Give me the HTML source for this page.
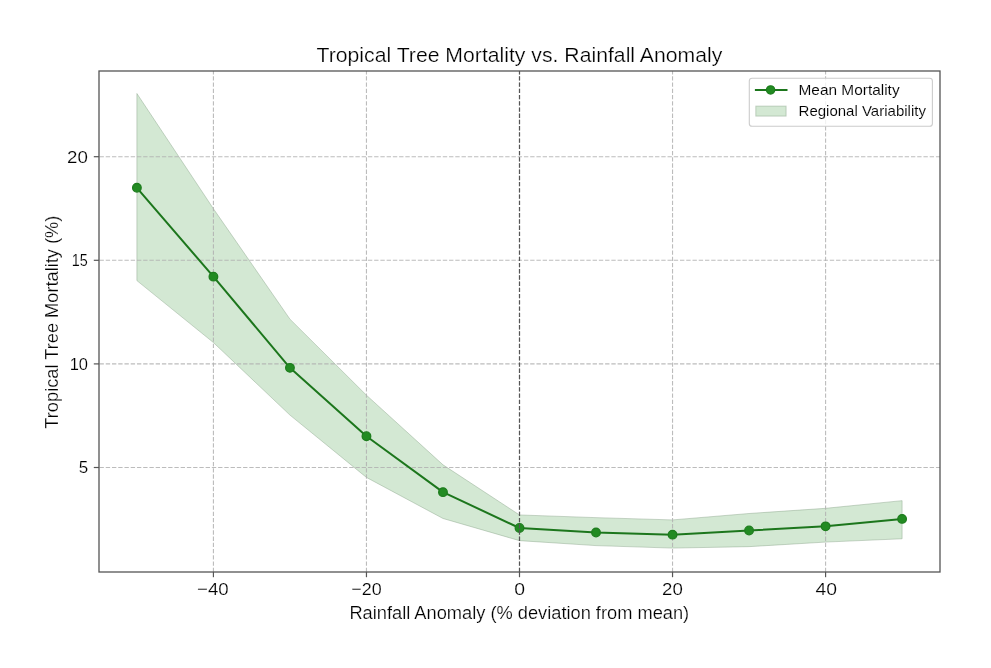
<!DOCTYPE html>
<html><head><meta charset="utf-8"><title>Tropical Tree Mortality vs. Rainfall Anomaly</title>
<style>html,body{margin:0;padding:0;background:#fff;width:991px;height:668px;overflow:hidden}svg{display:block;will-change:transform}</style>
</head><body>
<svg width="991" height="668" viewBox="0 0 991 668"><rect x="0" y="0" width="991" height="668" fill="#ffffff"/><path d="M136.9,93.5 L213.42,208.71 L289.94,319.14 L366.46,395.19 L442.98,464.81 L519.5,514.95 L596.02,517.64 L672.54,519.92 L749.06,513.5 L825.58,508.32 L902.1,500.65 L902.1,538.78 L825.58,542.09 L749.06,546.65 L672.54,548.1 L596.02,545.61 L519.5,540.64 L442.98,518.47 L366.46,477.45 L289.94,415.08 L213.42,342.56 L136.9,280.61 Z" fill="#228b22" fill-opacity="0.2" stroke="#789678" stroke-opacity="0.38" stroke-width="1.0" stroke-linejoin="round"/><line x1="213.42" y1="572.0" x2="213.42" y2="71.0" stroke="#b0b0b0" stroke-opacity="0.85" stroke-width="1.1" stroke-dasharray="4.342 1.878"/><line x1="366.46" y1="572.0" x2="366.46" y2="71.0" stroke="#b0b0b0" stroke-opacity="0.85" stroke-width="1.1" stroke-dasharray="4.342 1.878"/><line x1="672.54" y1="572.0" x2="672.54" y2="71.0" stroke="#b0b0b0" stroke-opacity="0.85" stroke-width="1.1" stroke-dasharray="4.342 1.878"/><line x1="825.58" y1="572.0" x2="825.58" y2="71.0" stroke="#b0b0b0" stroke-opacity="0.85" stroke-width="1.1" stroke-dasharray="4.342 1.878"/><line x1="519.5" y1="572.0" x2="519.5" y2="71.0" stroke="#b0b0b0" stroke-opacity="0.85" stroke-width="1.1" stroke-dasharray="4.342 1.878"/><line x1="99.5" y1="467.5" x2="940.0" y2="467.5" stroke="#b0b0b0" stroke-opacity="0.85" stroke-width="1.1" stroke-dasharray="4.357 1.885"/><line x1="99.5" y1="363.9" x2="940.0" y2="363.9" stroke="#b0b0b0" stroke-opacity="0.85" stroke-width="1.1" stroke-dasharray="4.357 1.885"/><line x1="99.5" y1="260.3" x2="940.0" y2="260.3" stroke="#b0b0b0" stroke-opacity="0.85" stroke-width="1.1" stroke-dasharray="4.357 1.885"/><line x1="99.5" y1="156.7" x2="940.0" y2="156.7" stroke="#b0b0b0" stroke-opacity="0.85" stroke-width="1.1" stroke-dasharray="4.357 1.885"/><polyline points="136.9,187.78 213.42,276.67 289.94,367.84 366.46,436.21 442.98,492.16 519.5,528 596.02,532.56 672.54,534.63 749.06,530.49 825.58,526.34 902.1,518.89" fill="none" stroke="#1c761c" stroke-width="2.0" stroke-linejoin="round" stroke-linecap="butt"/><circle cx="136.9" cy="187.78" r="4.3" fill="#228b22" stroke="#1e7d1e" stroke-width="1.3"/><circle cx="213.42" cy="276.67" r="4.3" fill="#228b22" stroke="#1e7d1e" stroke-width="1.3"/><circle cx="289.94" cy="367.84" r="4.3" fill="#228b22" stroke="#1e7d1e" stroke-width="1.3"/><circle cx="366.46" cy="436.21" r="4.3" fill="#228b22" stroke="#1e7d1e" stroke-width="1.3"/><circle cx="442.98" cy="492.16" r="4.3" fill="#228b22" stroke="#1e7d1e" stroke-width="1.3"/><circle cx="519.5" cy="528" r="4.3" fill="#228b22" stroke="#1e7d1e" stroke-width="1.3"/><circle cx="596.02" cy="532.56" r="4.3" fill="#228b22" stroke="#1e7d1e" stroke-width="1.3"/><circle cx="672.54" cy="534.63" r="4.3" fill="#228b22" stroke="#1e7d1e" stroke-width="1.3"/><circle cx="749.06" cy="530.49" r="4.3" fill="#228b22" stroke="#1e7d1e" stroke-width="1.3"/><circle cx="825.58" cy="526.34" r="4.3" fill="#228b22" stroke="#1e7d1e" stroke-width="1.3"/><circle cx="902.1" cy="518.89" r="4.3" fill="#228b22" stroke="#1e7d1e" stroke-width="1.3"/><line x1="519.5" y1="572.0" x2="519.5" y2="71.0" stroke="#555555" stroke-width="1.2" stroke-dasharray="4.342 1.878"/><rect x="99.0" y="71.0" width="841.0" height="501.0" fill="none" stroke="#555555" stroke-width="1.3"/><line x1="213.42" y1="572.0" x2="213.42" y2="577.2" stroke="#555555" stroke-width="1.2"/><line x1="366.46" y1="572.0" x2="366.46" y2="577.2" stroke="#555555" stroke-width="1.2"/><line x1="519.5" y1="572.0" x2="519.5" y2="577.2" stroke="#555555" stroke-width="1.2"/><line x1="672.54" y1="572.0" x2="672.54" y2="577.2" stroke="#555555" stroke-width="1.2"/><line x1="825.58" y1="572.0" x2="825.58" y2="577.2" stroke="#555555" stroke-width="1.2"/><line x1="99.0" y1="467.5" x2="93.8" y2="467.5" stroke="#555555" stroke-width="1.2"/><line x1="99.0" y1="363.9" x2="93.8" y2="363.9" stroke="#555555" stroke-width="1.2"/><line x1="99.0" y1="260.3" x2="93.8" y2="260.3" stroke="#555555" stroke-width="1.2"/><line x1="99.0" y1="156.7" x2="93.8" y2="156.7" stroke="#555555" stroke-width="1.2"/><text transform="matrix(1.0450 0 0 1 316.54 61.5)" font-family='"Liberation Sans", sans-serif' font-size="20.3" fill="#000000" stroke="#ffffff" stroke-width="0.24">Tropical Tree Mortality vs. Rainfall Anomaly</text><text transform="matrix(1.0374 0 0 1 349.40 618.6)" font-family='"Liberation Sans", sans-serif' font-size="17.6" fill="#000000" stroke="#ffffff" stroke-width="0.21">Rainfall Anomaly (% deviation from mean)</text><text transform="matrix(1.0982 0 0 1 197.08 594.5)" font-family='"Liberation Sans", sans-serif' font-size="17.0" fill="#000000" stroke="#ffffff" stroke-width="0.20">−40</text><text transform="matrix(1.0545 0 0 1 351.31 594.5)" font-family='"Liberation Sans", sans-serif' font-size="17.0" fill="#000000" stroke="#ffffff" stroke-width="0.20">−20</text><text transform="matrix(1.1412 0 0 1 514.33 594.5)" font-family='"Liberation Sans", sans-serif' font-size="17.0" fill="#000000" stroke="#ffffff" stroke-width="0.20">0</text><text transform="matrix(1.0971 0 0 1 662.08 594.5)" font-family='"Liberation Sans", sans-serif' font-size="17.0" fill="#000000" stroke="#ffffff" stroke-width="0.20">20</text><text transform="matrix(1.1389 0 0 1 815.42 594.5)" font-family='"Liberation Sans", sans-serif' font-size="17.0" fill="#000000" stroke="#ffffff" stroke-width="0.20">40</text><text transform="matrix(1.1029 0 0 1 67.07 162.7)" font-family='"Liberation Sans", sans-serif' font-size="17.0" fill="#000000" stroke="#ffffff" stroke-width="0.20">20</text><text transform="matrix(0.8471 0 0 1 71.84 266.2)" font-family='"Liberation Sans", sans-serif' font-size="17.0" fill="#000000" stroke="#ffffff" stroke-width="0.20">15</text><text transform="matrix(0.9706 0 0 1 69.69 369.7)" font-family='"Liberation Sans", sans-serif' font-size="17.0" fill="#000000" stroke="#ffffff" stroke-width="0.20">10</text><text transform="matrix(1.0000 0 0 1 78.65 473.4)" font-family='"Liberation Sans", sans-serif' font-size="17.0" fill="#000000" stroke="#ffffff" stroke-width="0.20">5</text><text transform="matrix(0 -1.0370 1 0 57.6 428.66)" font-family='"Liberation Sans", sans-serif' font-size="17.6" fill="#000000" stroke="#ffffff" stroke-width="0.21">Tropical Tree Mortality (%)</text><rect x="749.3" y="78.3" width="183.1" height="48" rx="2.8" ry="2.8" fill="#ffffff" fill-opacity="0.8" stroke="#cccccc" stroke-width="1.1"/><line x1="754.9" y1="89.9" x2="787.5" y2="89.9" stroke="#1c761c" stroke-width="2.0"/><circle cx="770.6" cy="89.9" r="4.1" fill="#228b22" stroke="#1e7d1e" stroke-width="1.3"/><rect x="755.8" y="106.1" width="30.3" height="10" fill="#228b22" fill-opacity="0.2" stroke="#789678" stroke-opacity="0.38" stroke-width="1.0"/><text transform="matrix(1.0792 0 0 1 798.52 94.65)" font-family='"Liberation Sans", sans-serif' font-size="14.3" fill="#000000" stroke="#ffffff" stroke-width="0.12">Mean Mortality</text><text transform="matrix(1.0503 0 0 1 798.55 115.85)" font-family='"Liberation Sans", sans-serif' font-size="14.3" fill="#000000" stroke="#ffffff" stroke-width="0.12">Regional Variability</text></svg>
</body></html>
